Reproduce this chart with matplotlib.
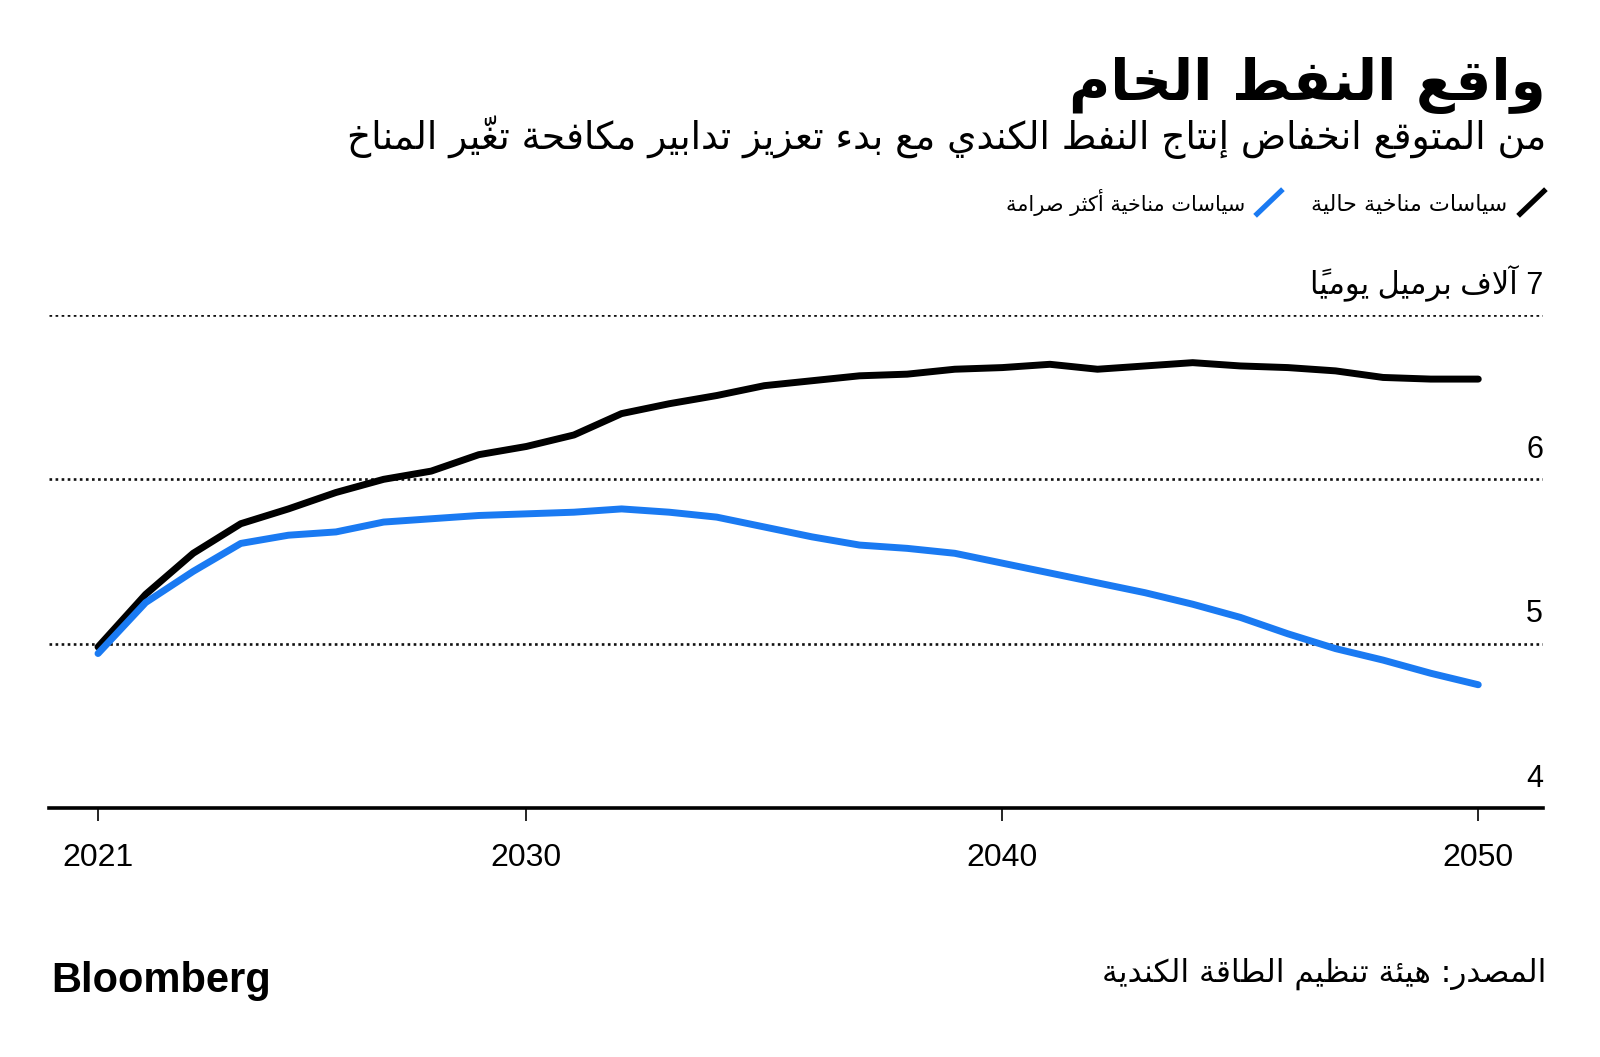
import matplotlib
matplotlib.use('Agg')
import matplotlib.pyplot as plt
from matplotlib.lines import Line2D

# data (thousand barrels per day)
years = list(range(2021, 2051))
current_policies = [4.98, 5.30, 5.55, 5.73, 5.82, 5.92, 6.00, 6.05, 6.15, 6.20,
                    6.27, 6.40, 6.46, 6.51, 6.57, 6.60, 6.63, 6.64, 6.67, 6.68,
                    6.70, 6.67, 6.69, 6.71, 6.69, 6.68, 6.66, 6.62, 6.61, 6.61]
stricter_policies = [4.94, 5.25, 5.44, 5.61, 5.66, 5.68, 5.74, 5.76, 5.78, 5.79,
                     5.80, 5.82, 5.80, 5.77, 5.71, 5.65, 5.60, 5.58, 5.55, 5.49,
                     5.43, 5.37, 5.31, 5.24, 5.16, 5.06, 4.97, 4.90, 4.82, 4.75]

xticks = [2021, 2030, 2040, 2050]
yticks = [4, 5, 6, 7]

title = 'واقع النفط الخام'
subtitle = 'من المتوقع انخفاض إنتاج النفط الكندي مع بدء تعزيز تدابير مكافحة تغيّر المناخ'
legend_labels = ['سياسات مناخية حالية', 'سياسات مناخية أكثر صرامة']
unit = 'آلاف برميل يومياً'
source = 'المصدر: هيئة تنظيم الطاقة الكندية'

BLACK = '#000000'
BLUE = '#1A7AF2'

# matplotlib does no arabic shaping, so pick presentation forms by hand
_counts = [1, 2, 2, 2, 2, 4, 2, 4, 2, 4, 4, 4, 4, 4, 2, 2, 2, 2, 4, 4, 4, 4, 4, 4, 4, 4,
           4, 4, 4, 4, 4, 4, 4, 2, 2, 4]
_letters = [chr(c) for c in range(0x0621, 0x063B)] + [chr(c) for c in range(0x0641, 0x064B)]
FORMS = {}
code = 0xFE80
for ch, n in zip(_letters, _counts):
    FORMS[ch] = [chr(code + i) for i in range(n)]
    code += n
LAM_ALEF = {'\u0622': 0xFEF5, '\u0623': 0xFEF7, '\u0625': 0xFEF9, '\u0627': 0xFEFB}


def ar(text):
    clusters = []
    for ch in text:
        if ('\u064B' <= ch <= '\u065F' or ch == '\u0670') and clusters:
            clusters[-1][2] += ch
        elif clusters and clusters[-1][0] == '\u0644' and ch in LAM_ALEF:
            lig = LAM_ALEF[ch]
            clusters[-1][0] = 'lam-alef'
            clusters[-1][1] = [chr(lig), chr(lig + 1)]
        else:
            clusters.append([ch, FORMS.get(ch), ''])
    out = []
    for i, (ch, forms, marks) in enumerate(clusters):
        if not forms:
            out.append(ch + marks)
            continue
        prev = clusters[i - 1][1] if i > 0 else None
        nxt = clusters[i + 1][1] if i + 1 < len(clusters) else None
        jp = prev is not None and len(prev) == 4 and len(forms) >= 2
        jn = len(forms) == 4 and nxt is not None and len(nxt) >= 2
        if jp:
            idx = 3 if jn else 1
        else:
            idx = 2 if jn else 0
        out.append(forms[idx] + marks)
    return ''.join(reversed(out))


plt.rcParams['font.family'] = ['DejaVu Sans']

W, H = 1600, 1057
fig = plt.figure(figsize=(W / 100, H / 100), dpi=100)
ax = fig.add_axes([49 / W, 1 - 808 / H, (1543 - 49) / W, (808 - 315) / H])

ax.plot(years, current_policies, color=BLACK, lw=5, solid_capstyle='round', zorder=3)
ax.plot(years, stricter_policies, color=BLUE, lw=5, solid_capstyle='round', zorder=3)

ax.set_xlim(2019.97, 2051.36)
ax.set_ylim(4, 7)
ax.set_yticks(yticks)
ax.grid(axis='y', color='#111111', linestyle=(0, (1, 1.3)), lw=1.9)
ax.tick_params(axis='y', length=0, labelleft=False)
ax.set_xticks(xticks)
ax.set_xticklabels([str(x) for x in xticks], fontfamily='Liberation Sans', fontsize=23)
ax.tick_params(axis='x', direction='out', length=9, width=1.2, color=BLACK, pad=16)
for s in ['top', 'right', 'left']:
    ax.spines[s].set_visible(False)
ax.spines['bottom'].set_linewidth(2.6)
ax.spines['bottom'].set_zorder(4)

# y labels sit above the gridlines on the right
ylab_tf = ax.get_yaxis_transform()
for v in yticks:
    lab = str(v)
    if v == yticks[-1]:
        lab = ar(unit) + ' ' + lab
    ax.text(1.0, v + 0.13, lab, transform=ylab_tf, ha='right', va='baseline',
            fontsize=22, family=['Liberation Sans', 'DejaVu Sans'])

# header
fig.text(1546 / W, 1 - 100 / H, ar(title), ha='right', va='baseline',
         fontsize=40.5, fontweight='bold')
fig.text(1546 / W, 1 - 149 / H, ar(subtitle), ha='right', va='baseline', fontsize=27)

# legend
fig.add_artist(Line2D([1520 / W, 1544 / W], [1 - 214 / H, 1 - 191 / H], color=BLACK,
                      lw=3.8, transform=fig.transFigure))
fig.text(1507 / W, 1 - 211 / H, ar(legend_labels[0]), ha='right', va='baseline', fontsize=16)
fig.add_artist(Line2D([1257 / W, 1281 / W], [1 - 214 / H, 1 - 191 / H], color=BLUE,
                      lw=3.8, transform=fig.transFigure))
fig.text(1245 / W, 1 - 211 / H, ar(legend_labels[1]), ha='right', va='baseline', fontsize=15)

# footer
fig.text(1546 / W, 1 - 982 / H, ar(source), ha='right', va='baseline', fontsize=22.5)
fig.text(51 / W, 1 - 992 / H, 'Bloomberg', ha='left', va='baseline', fontsize=30,
         fontweight='bold', fontfamily='Liberation Sans')

fig.savefig('out.png', dpi=100, facecolor='white')
